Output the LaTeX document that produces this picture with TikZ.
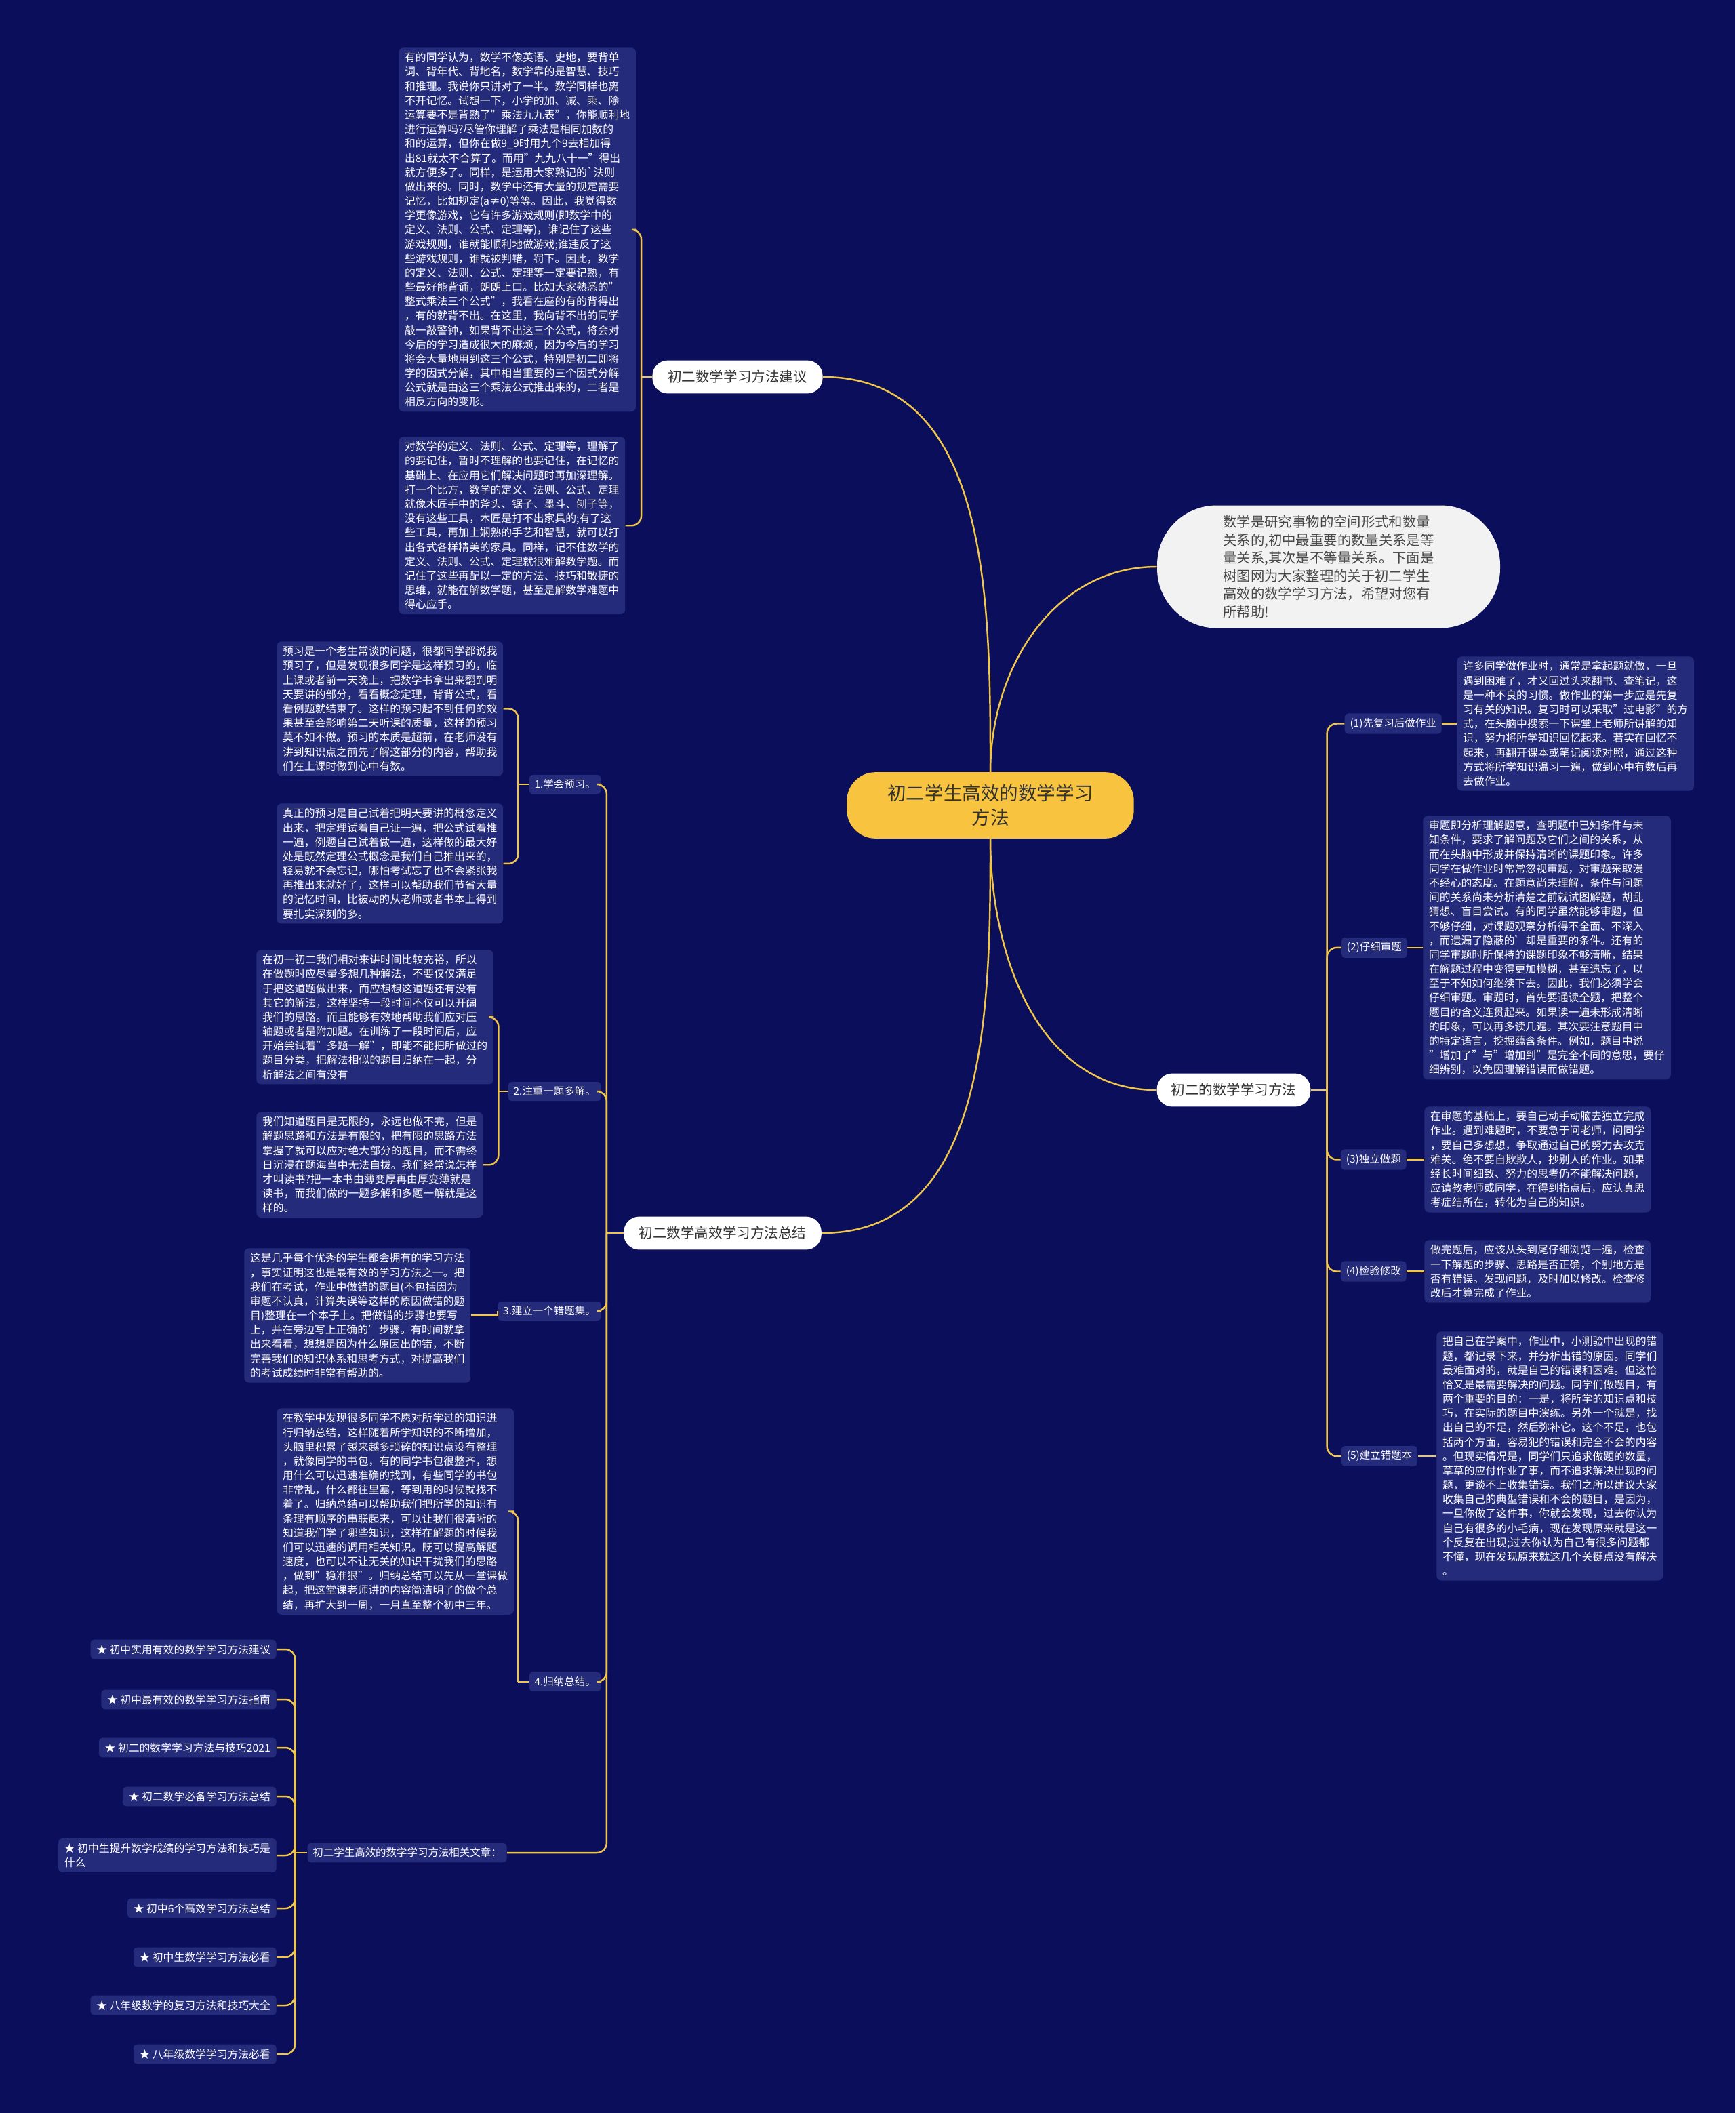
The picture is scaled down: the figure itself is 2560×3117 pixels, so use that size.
\documentclass[tikz,border=0pt]{standalone}
\usepackage{fontspec}
\setmainfont{Noto Sans CJK SC}
\usepackage{tikz}
\usetikzlibrary{positioning,calc}
\definecolor{fond}{HTML}{0B0E5A}
\definecolor{blocfond}{HTML}{252B7B}
\definecolor{fil}{HTML}{EFC54A}
\definecolor{jaune}{HTML}{F8C33F}
\definecolor{encre}{HTML}{333333}
\newcommand\corps{\fontsize{9.0}{12.05}\selectfont}
\tikzset{
  bloc/.style={rectangle, rounded corners=4pt, fill=blocfond, text=white, align=left,
               font=\corps, inner xsep=5pt, inner ysep=4pt, anchor=north west},
  centre/.style={rectangle, rounded corners=24pt, fill=jaune, text=encre, align=center,
                 font=\fontsize{15.7}{20.3}\selectfont, minimum width=241pt, minimum height=55.6pt},
  intro/.style={rectangle, rounded corners=50pt, fill=white!95!black, text=encre!90, align=left,
                font=\fontsize{11.6}{15.1}\selectfont, minimum width=288pt, minimum height=103pt},
  branche/.style={rectangle, rounded corners=13pt, fill=white, text=encre, align=center,
                  font=\fontsize{11.7}{14}\selectfont, minimum height=27.8pt},
  etiq/.style={rectangle, rounded corners=3pt, fill=blocfond, text=white,
               font=\fontsize{8.8}{11}\selectfont, inner xsep=4.5pt, inner ysep=4pt},
  item/.style={rectangle, rounded corners=3pt, fill=blocfond, text=white, align=left,
               font=\corps, inner xsep=5pt, inner ysep=4pt, anchor=east},
  lien/.style={draw=fil, line width=1.4pt},
  accol/.style={lien, rounded corners=8pt},
}
\begin{document}
\begin{tikzpicture}[x=0.02cm, y=-0.02cm]
  \fill[fond] (0,0) rectangle (2560,3117);
  \useasboundingbox (0,0) rectangle (2560,3117);

  % centre et branches
  \node[centre] (c) at (1461,1188) {初二学生高效的数学学习\\方法};
  \node[intro] (intro) at (1960,836) {数学是研究事物的空间形式和数量\\关系的,初中最重要的数量关系是等\\量关系,其次是不等量关系。下面是\\树图网为大家整理的关于初二学生\\高效的数学学习方法，希望对您有\\所帮助!};
  \node[branche, minimum width=143pt] (b1) at (1088,556) {初二数学学习方法建议};
  \node[branche, minimum width=129pt] (b2) at (1820,1608) {初二的数学学习方法};
  \node[branche, minimum width=166pt] (b3) at (1066,1819) {初二数学高效学习方法总结};
  \draw[lien] (c.north) to[out=90,in=0] (b1.east);
  \draw[lien] (c.north) to[out=90,in=180] (intro.west);
  \draw[lien] (c.south) to[out=-90,in=180] (b2.west);
  \draw[lien] (c.south) to[out=-90,in=0] (b3.east);

  % branche 1
  \node[bloc] (a1) at (588,70) {有的同学认为，数学不像英语、史地，要背单\\词、背年代、背地名，数学靠的是智慧、技巧\\和推理。我说你只讲对了一半。数学同样也离\\不开记忆。试想一下，小学的加、减、乘、除\\运算要不是背熟了"乘法九九表"，你能顺利地\\进行运算吗?尽管你理解了乘法是相同加数的\\和的运算，但你在做9\_9时用九个9去相加得\\出81就太不合算了。而用"九九八十一"得出\\就方便多了。同样，是运用大家熟记的\textasciigrave 法则\\做出来的。同时，数学中还有大量的规定需要\\记忆，比如规定(a≠0)等等。因此，我觉得数\\学更像游戏，它有许多游戏规则(即数学中的\\定义、法则、公式、定理等)，谁记住了这些\\游戏规则，谁就能顺利地做游戏;谁违反了这\\些游戏规则，谁就被判错，罚下。因此，数学\\的定义、法则、公式、定理等一定要记熟，有\\些最好能背诵，朗朗上口。比如大家熟悉的"\\整式乘法三个公式"，我看在座的有的背得出\\，有的就背不出。在这里，我向背不出的同学\\敲一敲警钟，如果背不出这三个公式，将会对\\今后的学习造成很大的麻烦，因为今后的学习\\将会大量地用到这三个公式，特别是初二即将\\学的因式分解，其中相当重要的三个因式分解\\公式就是由这三个乘法公式推出来的，二者是\\相反方向的变形。};
  \node[bloc] (a2) at (588,644) {对数学的定义、法则、公式、定理等，理解了\\的要记住，暂时不理解的也要记住，在记忆的\\基础上、在应用它们解决问题时再加深理解。\\打一个比方，数学的定义、法则、公式、定理\\就像木匠手中的斧头、锯子、墨斗、刨子等，\\没有这些工具，木匠是打不出家具的;有了这\\些工具，再加上娴熟的手艺和智慧，就可以打\\出各式各样精美的家具。同样，记不住数学的\\定义、法则、公式、定理就很难解数学题。而\\记住了这些再配以一定的方法、技巧和敏捷的\\思维，就能在解数学题，甚至是解数学难题中\\得心应手。};
  \draw[lien] (b1.west) -- ++(-16,0) coordinate (s1);
  \draw[accol] (s1) |- (a1.east);
  \draw[accol] (s1) |- (a2.east);

  % branche 2
  \node[bloc] (t1) at (2149,968) {许多同学做作业时，通常是拿起题就做，一旦\\遇到困难了，才又回过头来翻书、查笔记，这\\是一种不良的习惯。做作业的第一步应是先复\\习有关的知识。复习时可以采取"过电影"的方\\式，在头脑中搜索一下课堂上老师所讲解的知\\识，努力将所学知识回忆起来。若实在回忆不\\起来，再翻开课本或笔记阅读对照，通过这种\\方式将所学知识温习一遍，做到心中有数后再\\去做作业。};
  \node[bloc] (t2) at (2099,1203) {审题即分析理解题意，查明题中已知条件与未\\知条件，要求了解问题及它们之间的关系，从\\而在头脑中形成并保持清晰的课题印象。许多\\同学在做作业时常常忽视审题，对审题采取漫\\不经心的态度。在题意尚未理解，条件与问题\\间的关系尚未分析清楚之前就试图解题，胡乱\\猜想、盲目尝试。有的同学虽然能够审题，但\\不够仔细，对课题观察分析得不全面、不深入\\，而遗漏了隐蔽的'却是重要的条件。还有的\\同学审题时所保持的课题印象不够清晰，结果\\在解题过程中变得更加模糊，甚至遗忘了，以\\至于不知如何继续下去。因此，我们必须学会\\仔细审题。审题时，首先要通读全题，把整个\\题目的含义连贯起来。如果读一遍未形成清晰\\的印象，可以再多读几遍。其次要注意题目中\\的特定语言，挖掘蕴含条件。例如，题目中说\\"增加了"与"增加到"是完全不同的意思，要仔\\细辨别，以免因理解错误而做错题。};
  \node[bloc] (t3) at (2101,1632) {在审题的基础上，要自己动手动脑去独立完成\\作业。遇到难题时，不要急于问老师，问同学\\，要自己多想想，争取通过自己的努力去攻克\\难关。绝不要自欺欺人，抄别人的作业。如果\\经长时间细致、努力的思考仍不能解决问题，\\应请教老师或同学，在得到指点后，应认真思\\考症结所在，转化为自己的知识。};
  \node[bloc] (t4) at (2101,1829) {做完题后，应该从头到尾仔细浏览一遍，检查\\一下解题的步骤、思路是否正确，个别地方是\\否有错误。发现问题，及时加以修改。检查修\\改后才算完成了作业。};
  \node[bloc] (t5) at (2119,1964) {把自己在学案中，作业中，小测验中出现的错\\题，都记录下来，并分析出错的原因。同学们\\最难面对的，就是自己的错误和困难。但这恰\\恰又是最需要解决的问题。同学们做题目，有\\两个重要的目的：一是，将所学的知识点和技\\巧，在实际的题目中演练。另外一个就是，找\\出自己的不足，然后弥补它。这个不足，也包\\括两个方面，容易犯的错误和完全不会的内容\\。但现实情况是，同学们只追求做题的数量，\\草草的应付作业了事，而不追求解决出现的问\\题，更谈不上收集错误。我们之所以建议大家\\收集自己的典型错误和不会的题目，是因为，\\一旦你做了这件事，你就会发现，过去你认为\\自己有很多的小毛病，现在发现原来就是这一\\个反复在出现;过去你认为自己有很多问题都\\不懂，现在发现原来就这几个关键点没有解决\\。};
  \node[etiq, left=0.44cm of t1] (l1) {(1)先复习后做作业};
  \node[etiq, left=0.46cm of t2] (l2) {(2)仔细审题};
  \node[etiq, left=0.52cm of t3] (l3) {(3)独立做题};
  \node[etiq, left=0.52cm of t4] (l4) {(4)检验修改};
  \node[etiq, left=0.55cm of t5] (l5) {(5)建立错题本};
  \draw[lien] (b2.east) -- ++(24,0) coordinate (s2);
  \foreach \i in {1,...,5} {
    \draw[accol] (s2) |- (l\i.west);
    \draw[lien] (l\i.east) -- (t\i.west);
  }

  % branche 3
  \node[bloc] (p1) at (408,946) {预习是一个老生常谈的问题，很都同学都说我\\预习了，但是发现很多同学是这样预习的，临\\上课或者前一天晚上，把数学书拿出来翻到明\\天要讲的部分，看看概念定理，背背公式，看\\看例题就结束了。这样的预习起不到任何的效\\果甚至会影响第二天听课的质量，这样的预习\\莫不如不做。预习的本质是超前，在老师没有\\讲到知识点之前先了解这部分的内容，帮助我\\们在上课时做到心中有数。};
  \node[bloc] (p2) at (408,1185) {真正的预习是自己试着把明天要讲的概念定义\\出来，把定理试着自己证一遍，把公式试着推\\一遍，例题自己试着做一遍，这样做的最大好\\处是既然定理公式概念是我们自己推出来的，\\轻易就不会忘记，哪怕考试忘了也不会紧张我\\再推出来就好了，这样可以帮助我们节省大量\\的记忆时间，比被动的从老师或者书本上得到\\要扎实深刻的多。};
  \node[bloc] (m1) at (378,1401) {在初一初二我们相对来讲时间比较充裕，所以\\在做题时应尽量多想几种解法，不要仅仅满足\\于把这道题做出来，而应想想这道题还有没有\\其它的解法，这样坚持一段时间不仅可以开阔\\我们的思路。而且能够有效地帮助我们应对压\\轴题或者是附加题。在训练了一段时间后，应\\开始尝试着"多题一解"，即能不能把所做过的\\题目分类，把解法相似的题目归纳在一起，分\\析解法之间有没有};
  \node[bloc] (m2) at (378,1640) {我们知道题目是无限的，永远也做不完，但是\\解题思路和方法是有限的，把有限的思路方法\\掌握了就可以应对绝大部分的题目，而不需终\\日沉浸在题海当中无法自拔。我们经常说怎样\\才叫读书?把一本书由薄变厚再由厚变薄就是\\读书，而我们做的一题多解和多题一解就是这\\样的。};
  \node[bloc] (e1) at (360,1841) {这是几乎每个优秀的学生都会拥有的学习方法\\，事实证明这也是最有效的学习方法之一。把\\我们在考试，作业中做错的题目(不包括因为\\审题不认真，计算失误等这样的原因做错的题\\目)整理在一个本子上。把做错的步骤也要写\\上，并在旁边写上正确的'步骤。有时间就拿\\出来看看，想想是因为什么原因出的错，不断\\完善我们的知识体系和思考方式，对提高我们\\的考试成绩时非常有帮助的。};
  \node[bloc] (g1) at (408,2077) {在教学中发现很多同学不愿对所学过的知识进\\行归纳总结，这样随着所学知识的不断增加，\\头脑里积累了越来越多琐碎的知识点没有整理\\，就像同学的书包，有的同学书包很整齐，想\\用什么可以迅速准确的找到，有些同学的书包\\非常乱，什么都往里塞，等到用的时候就找不\\着了。归纳总结可以帮助我们把所学的知识有\\条理有顺序的串联起来，可以让我们很清晰的\\知道我们学了哪些知识，这样在解题的时候我\\们可以迅速的调用相关知识。既可以提高解题\\速度，也可以不让无关的知识干扰我们的思路\\，做到"稳准狠"。归纳总结可以先从一堂课做\\起，把这堂课老师讲的内容简洁明了的做个总\\结，再扩大到一周，一月直至整个初中三年。};
  \node[etiq, anchor=east] (k1) at (887,1157) {1.学会预习。};
  \node[etiq, anchor=east] (k2) at (887,1610) {2.注重一题多解。};
  \node[etiq, anchor=east] (k3) at (887,1934) {3.建立一个错题集。};
  \node[etiq, anchor=east] (k4) at (887,2481) {4.归纳总结。};
  \node[etiq, anchor=east] (k5) at (748,2733) {初二学生高效的数学学习方法相关文章：};
  \draw[lien] (b3.west) -- ++(-25,0) coordinate (s3);
  \foreach \i in {1,...,5} \draw[accol] (s3) |- (k\i.east);
  \draw[lien] (k1.west) -- ++(-16,0) coordinate (s31);
  \draw[accol] (s31) |- (p1.east);
  \draw[accol] (s31) |- (p2.east);
  \draw[lien] (k2.west) -- ++(-14,0) coordinate (s32);
  \draw[accol] (s32) |- (m1.east);
  \draw[accol] (s32) |- (m2.east);
  \draw[lien] (k3.west) -- (e1.east -| k3.west) -- (e1.east);
  \draw[lien] (k4.west) -- ++(-16,0) coordinate (s34);
  \draw[accol] (s34) |- (g1.east);

  % articles
  \node[item] (r1) at (408,2433) {★ 初中实用有效的数学学习方法建议};
  \node[item] (r2) at (408,2507) {★ 初中最有效的数学学习方法指南};
  \node[item] (r3) at (408,2578) {★ 初二的数学学习方法与技巧2021};
  \node[item] (r4) at (408,2650) {★ 初二数学必备学习方法总结};
  \node[item] (r5) at (408,2737) {★ 初中生提升数学成绩的学习方法和技巧是\\什么};
  \node[item] (r6) at (408,2815) {★ 初中6个高效学习方法总结};
  \node[item] (r7) at (408,2887) {★ 初中生数学学习方法必看};
  \node[item] (r8) at (408,2958) {★ 八年级数学的复习方法和技巧大全};
  \node[item] (r9) at (408,3030) {★ 八年级数学学习方法必看};
  \draw[lien] (k5.west) -- ++(-18,0) coordinate (s35);
  \foreach \i in {1,...,9} \draw[accol] (s35) |- (r\i.east);
\end{tikzpicture}
\end{document}
